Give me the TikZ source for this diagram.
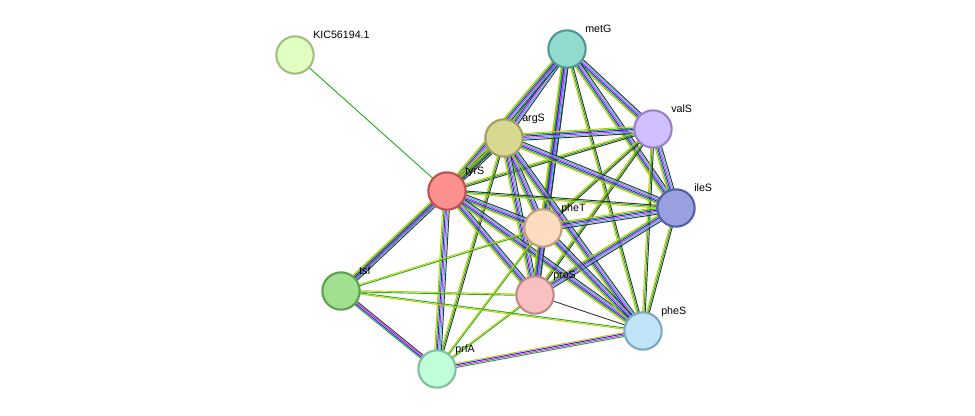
\documentclass[tikz,border=0pt]{standalone}
\usepackage{fontspec}
\setmainfont{Liberation Sans}
\usetikzlibrary{calc}
\pgfdeclarelayer{bg}\pgfsetlayers{bg,main}
\definecolor{eY}{HTML}{C8C800}\definecolor{eG}{HTML}{20B020}\definecolor{eB}{HTML}{2020F0}
\definecolor{eM}{HTML}{E030E0}\definecolor{eC}{HTML}{30C0E0}\definecolor{eK}{HTML}{333333}
\tikzset{prot/.style={circle,minimum size=28pt,inner sep=0pt,line width=1.6pt},
 lab/.style={anchor=base west,font=\fontsize{8}{9}\selectfont,inner sep=0pt}}
\newcommand\edg[4]{\begin{pgfonlayer}{bg}\foreach \c [count=\i] in {#4}{%
 \pgfmathsetmacro\o{(\i-(#3+1)/2)*1.0}%
 \draw[draw=\c,line width=0.7pt] ($(#1)!\o pt!90:(#2)$) -- ($(#2)!\o pt!-90:(#1)$);}\end{pgfonlayer}}
\newcommand\full[2]{\edg{#1}{#2}{6}{eY,eG,eB,eM,eC,eK}}
\newcommand\weak[2]{\edg{#1}{#2}{3}{eY,eG,eK}}
\newcommand\yg[2]{\edg{#1}{#2}{2}{eY,eG}}
\begin{document}
\begin{tikzpicture}[x=0.75pt,y=-0.75pt]
\useasboundingbox (0,0) rectangle (975,415);
\newcommand\pn[5]{\definecolor{f#1}{HTML}{#4}\definecolor{d#1}{HTML}{#5}\node[prot,fill=f#1,draw=d#1] (#1) at (#2) {};\node[lab] at ($(#2)+(18,-17)$) {#3};}
\pn{kic}{295,55}{KIC56194.1}{E0FFC0}{A0C080}
\pn{metG}{567,49}{metG}{90DCD0}{509890}
\pn{valS}{653,129}{valS}{D0C0FF}{9A80C8}
\pn{argS}{504,138}{argS}{D8D890}{A0A060}
\pn{tyrS}{447,191}{tyrS}{FF9090}{C05050}
\pn{ileS}{676,208}{ileS}{98A0E0}{5060A8}
\pn{pheT}{543,228}{pheT}{FFDCC0}{C0A080}
\pn{tsf}{341,291}{tsf}{A0E090}{60A050}
\pn{proS}{535,295}{proS}{F8C0C0}{C08888}
\pn{pheS}{643,331}{pheS}{C0E4F8}{80A8C0}
\pn{prfA}{437,369}{prfA}{C0FFD8}{80C0A0}
\edg{kic}{tyrS}{1}{eG}
\full{metG}{argS}\full{metG}{tyrS}\full{metG}{valS}\full{metG}{ileS}\full{metG}{pheT}\full{metG}{proS}\weak{metG}{pheS}
\full{valS}{argS}\weak{valS}{tyrS}\full{valS}{ileS}\weak{valS}{pheT}\weak{valS}{proS}\weak{valS}{pheS}
\full{argS}{tyrS}\full{argS}{ileS}\full{argS}{pheT}\full{argS}{proS}\full{argS}{pheS}\weak{argS}{tsf}\weak{argS}{prfA}
\weak{tyrS}{ileS}\full{tyrS}{pheT}\full{tyrS}{proS}\full{tyrS}{pheS}\full{tyrS}{tsf}\full{tyrS}{prfA}
\full{ileS}{pheT}\full{ileS}{proS}\weak{ileS}{pheS}
\full{pheT}{proS}\full{pheT}{pheS}\yg{pheT}{tsf}\yg{pheT}{prfA}
\edg{proS}{pheS}{1}{eK}\yg{proS}{tsf}\yg{proS}{prfA}
\edg{tsf}{prfA}{4}{eG,eB,eM,eK}\yg{tsf}{pheS}
\edg{pheS}{prfA}{4}{eY,eB,eM,eG}
\end{tikzpicture}
\end{document}
